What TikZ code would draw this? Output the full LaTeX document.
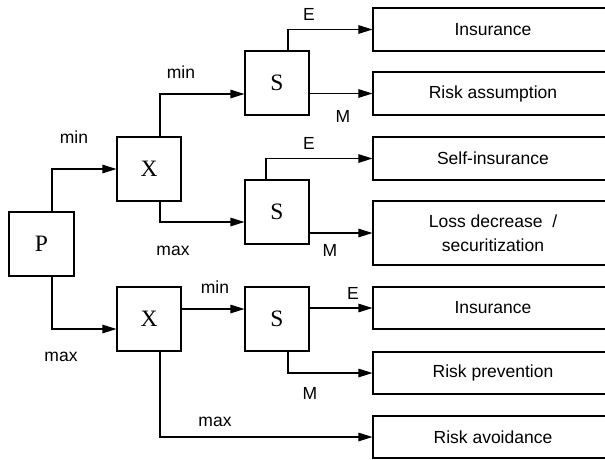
\documentclass[tikz,border=0pt]{standalone}
\usepackage{fontspec}
\setmainfont{Liberation Sans}
\newfontfamily\tnr{Liberation Serif}
\usetikzlibrary{arrows.meta}

\begin{document}
\begin{tikzpicture}[x=1pt,y=-1pt,line width=1.1pt,
  every node/.append style={inner sep=0pt,font=\fontsize{17.5}{24}\selectfont},
  dbox/.style={draw,minimum width=64,minimum height=64,font=\tnr\fontsize{23.5}{24}\selectfont},
  obox/.style={draw,minimum width=240,align=center},
  arr/.style={-{Triangle[length=14pt,width=8.5pt]}}]
\useasboundingbox (0,0) rectangle (605,459);
\clip (0,0) rectangle (605,459);
% decision boxes
\node [dbox,minimum width=65] (P) at (41.5,244) {P};
\node [dbox] (X1) at (149,169) {X};
\node [dbox] (X2) at (149,319) {X};
\node [dbox] (S1) at (277,83) {S};
\node [dbox] (S2) at (277,212) {S};
\node [dbox] (S3) at (277,319) {S};
% outcomes
\node [obox,minimum height=43] (Ins1) at (493,29.5) {Insurance};
\node [obox,minimum height=43] (RA) at (493,93.5) {Risk assumption};
\node [obox,minimum height=43] (SI) at (493,158.5) {Self-insurance};
\node [obox,minimum height=64] (LD) at (493,233) {Loss decrease\ \ /\\securitization};
\node [obox,minimum height=42] (Ins2) at (493,308) {Insurance};
\node [obox,minimum height=42] (RP) at (493,373) {Risk prevention};
\node [obox,minimum height=42] (RAv) at (493,437) {Risk avoidance};
% connectors
\draw [arr] ([xshift=10.5]P.north) |- (X1);
\draw [arr] ([xshift=10.5]P.south) |- ([yshift=-10]X2.west);
\draw [arr] ([xshift=11]X1.north) |- ([yshift=-11]S1.west);
\draw [arr] ([xshift=11]X1.south) |- ([yshift=-10]S2.west);
\draw [arr] ([yshift=10]X2.east) -- ([yshift=10]S3.west);
\draw [arr] ([xshift=11]X2.south) |- (RAv);
\draw [arr] ([xshift=11]S1.north) |- (Ins1);
\draw [arr] (S1.east |- RA) -- (RA);
\draw [arr] ([xshift=-11]S2.north) |- (SI);
\draw [arr] (S2.east |- LD) -- (LD);
\draw [arr] (S3.east |- Ins2) -- (Ins2);
\draw [arr] ([xshift=11]S3.south) |- (RP);
% labels
\node (lmin1) at (74,137) {min};
\node (lmax1) at (61,357) {max};
\node (lmin2) at (181,72) {min};
\node (lmax2) at (173,251) {max};
\node (lmin3) at (215,287) {min};
\node (lmax3) at (215,422) {max};
\node (lE1) at (309,14) {E};
\node (lM1) at (343,116) {M};
\node (lE2) at (309,143) {E};
\node (lM2) at (330,250) {M};
\node (lE3) at (353,293) {E};
\node (lM3) at (310,393) {M};
\end{tikzpicture}
\end{document}
